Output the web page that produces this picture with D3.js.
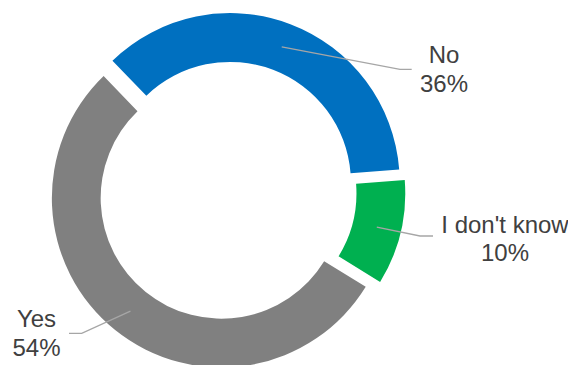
<!DOCTYPE html>
<html>
<head>
<meta charset="utf-8">
<script src="https://cdn.jsdelivr.net/npm/d3@7"></script>
<style>
  html, body { margin: 0; padding: 0; background: #fff; }
  svg { display: block; }
</style>
</head>
<body>
<svg id="chart" width="568" height="365"></svg>
<script>
// Survey answers (share of respondents, %)
const categories = ["No", "I don't know", "Yes"];
const values = [36, 10, 54];
const valueLabels = ["36%", "10%", "54%"];
const colors = ["#0070C0", "#00B050", "#808080"];

const width = 568, height = 365;
const cx = 227, cy = 191;          // doughnut centre
const outerR = 169.5, innerR = 120.7;
const explode = 9;                  // every slice pulled out along its bisector
const startDeg = -44;               // first slice begins here (clockwise from 12 o'clock)

// Leader-line elbows and label anchors, one per slice
const labelLayout = [
  { elbow: [400, 69.3],  end: [411.7, 69.3], text: [444, 63.3] },
  { elbow: [420, 236],   end: [433, 236],    text: [505, 232.7] },
  { elbow: [81.7, 333.3], end: [69, 333.3],  text: [36.5, 327.3] }
];

const data = categories.map((c, i) => ({ name: c, value: values[i], label: valueLabels[i], color: colors[i] }));

const svg = d3.select("#chart");

const pie = d3.pie()
  .sort(null)
  .value(d => d.value)
  .startAngle(startDeg * Math.PI / 180)
  .endAngle((startDeg + 360) * Math.PI / 180);

const arc = d3.arc().innerRadius(innerR).outerRadius(outerR);

const arcs = pie(data);

// offset of each exploded slice
function shift(d) {
  const a = (d.startAngle + d.endAngle) / 2;
  return [explode * Math.sin(a), -explode * Math.cos(a)];
}

const g = svg.append("g").attr("transform", `translate(${cx},${cy})`);

g.selectAll("path.slice")
  .data(arcs)
  .join("path")
  .attr("class", "slice")
  .attr("transform", d => { const s = shift(d); return `translate(${s[0]},${s[1]})`; })
  .attr("d", arc)
  .attr("fill", d => d.data.color);

// leader lines from each slice's centroid
const lines = svg.append("g");
arcs.forEach((d, i) => {
  const s = shift(d);
  const c = arc.centroid(d);
  const p0 = [cx + s[0] + c[0], cy + s[1] + c[1]];
  const L = labelLayout[i];
  lines.append("path")
    .attr("d", d3.line()([p0, L.elbow, L.end]))
    .attr("fill", "none")
    .attr("stroke", "#A6A6A6")
    .attr("stroke-width", 1.3);
});

// category + percentage labels
const labels = svg.append("g")
  .attr("font-family", "'Liberation Sans', Arial, sans-serif")
  .attr("font-size", 24)
  .attr("fill", "#404040")
  .attr("text-anchor", "middle");

arcs.forEach((d, i) => {
  const L = labelLayout[i];
  const t = labels.append("text").attr("x", L.text[0]).attr("y", L.text[1]);
  t.append("tspan").attr("x", L.text[0]).text(d.data.name);
  t.append("tspan").attr("x", L.text[0]).attr("dy", 28.5).text(d.data.label);
});
</script>
</body>
</html>
